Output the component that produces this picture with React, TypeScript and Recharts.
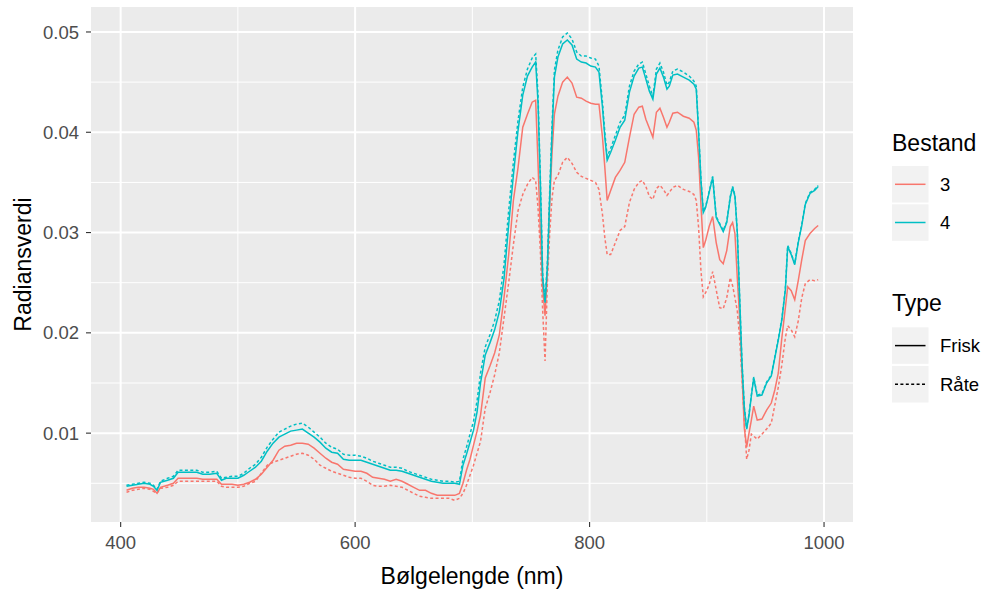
import React from 'react';
import { LineChart, Line, XAxis, YAxis, CartesianGrid } from 'recharts';

// wavelength (nm) and mean radiance per stand / type
const wavelengths = [
  405, 410, 415, 420, 425, 428, 431, 434, 440, 445,
  449, 455, 460, 465, 470, 476, 482, 486, 490, 495,
  500, 505, 510, 515, 520, 525, 530, 535, 540, 545,
  550, 555, 560, 565, 570, 575, 580, 585, 590, 595,
  600, 605, 610, 615, 620, 625, 630, 635, 640, 645,
  650, 655, 660, 665, 670, 675, 680, 685, 689, 692,
  695, 698, 701, 704, 707, 711, 715, 719, 723, 727,
  731, 735, 739, 743, 747, 751, 754, 756, 758, 760,
  762, 764, 766, 768, 770, 773, 777, 781, 785, 789,
  793, 797, 801, 805, 808, 811, 813, 815, 818, 822,
  826, 830, 834, 838, 842, 845, 848, 851, 854, 857,
  860, 863, 866, 868, 871, 875, 880, 885, 889, 891,
  893, 895, 897, 899, 902, 905, 908, 911, 914, 917,
  920, 922, 924, 926, 928, 930, 932, 934, 936, 938,
  940, 943, 947, 951, 955, 958, 961, 964, 967, 969,
  972, 975, 978, 981, 984, 988, 992, 995,
];

const frisk3 = [
  0.0043, 0.0045, 0.0046, 0.0046, 0.0045, 0.0044, 0.0040, 0.0046, 0.0048, 0.0050,
  0.0055, 0.0055, 0.0055, 0.0055, 0.0054, 0.0054, 0.0054, 0.0049, 0.0049, 0.0049,
  0.0048, 0.0049, 0.0051, 0.0054, 0.0059, 0.0066, 0.0073, 0.0083, 0.0087, 0.0088,
  0.0090, 0.0090, 0.0089, 0.0085, 0.0080, 0.0075, 0.0071, 0.0069, 0.0064, 0.0063,
  0.0062, 0.0062, 0.0060, 0.0056, 0.0055, 0.0054, 0.0052, 0.0054, 0.0052, 0.0049,
  0.0046, 0.0043, 0.0043, 0.0040, 0.0038, 0.0038, 0.0038, 0.0038, 0.0040, 0.0050,
  0.0063, 0.0074, 0.0088, 0.0102, 0.0118, 0.0155, 0.0167, 0.0180, 0.0198, 0.0235,
  0.0278, 0.0332, 0.0365, 0.0405, 0.0418, 0.0430, 0.0432, 0.0370, 0.0300, 0.0245,
  0.0217, 0.0262, 0.0330, 0.0380, 0.0418, 0.0436, 0.0450, 0.0455, 0.0449, 0.0435,
  0.0434, 0.0431, 0.0429, 0.0428, 0.0428, 0.0395, 0.0365, 0.0332, 0.0342, 0.0355,
  0.0362, 0.0370, 0.0395, 0.0418, 0.0425, 0.0426, 0.0413, 0.0404, 0.0395, 0.0420,
  0.0424, 0.0415, 0.0405, 0.0410, 0.0419, 0.0420, 0.0416, 0.0414, 0.0410, 0.0402,
  0.0375, 0.0328, 0.0285, 0.0292, 0.0306, 0.0316, 0.0290, 0.0273, 0.0269, 0.0282,
  0.0306, 0.0310, 0.0299, 0.0255, 0.0215, 0.0160, 0.0105, 0.0086, 0.0100, 0.0113,
  0.0127, 0.0113, 0.0114, 0.0123, 0.0130, 0.0143, 0.0160, 0.0195, 0.0225, 0.0246,
  0.0242, 0.0233, 0.0252, 0.0273, 0.0292, 0.0299, 0.0304, 0.0307,
];

const rate3 = [
  0.0041, 0.0043, 0.0044, 0.0045, 0.0044, 0.0042, 0.0040, 0.0045, 0.0046, 0.0048,
  0.0052, 0.0052, 0.0052, 0.0052, 0.0052, 0.0052, 0.0052, 0.0047, 0.0046, 0.0046,
  0.0046, 0.0047, 0.0050, 0.0052, 0.0060, 0.0068, 0.0071, 0.0073, 0.0075, 0.0077,
  0.0079, 0.0080, 0.0078, 0.0074, 0.0068, 0.0065, 0.0062, 0.0060, 0.0058, 0.0056,
  0.0055, 0.0055, 0.0052, 0.0048, 0.0047, 0.0047, 0.0048, 0.0047, 0.0046, 0.0043,
  0.0040, 0.0037, 0.0036, 0.0035, 0.0035, 0.0035, 0.0035, 0.0033, 0.0035, 0.0040,
  0.0048, 0.0058, 0.0068, 0.0080, 0.0092, 0.0125, 0.0140, 0.0158, 0.0180, 0.0215,
  0.0250, 0.0288, 0.0322, 0.0338, 0.0348, 0.0355, 0.0352, 0.0325, 0.0282, 0.0222,
  0.0172, 0.0250, 0.0300, 0.0335, 0.0352, 0.0357, 0.0370, 0.0375, 0.0369, 0.0360,
  0.0356, 0.0354, 0.0352, 0.0350, 0.0343, 0.0318, 0.0295, 0.0278, 0.0278, 0.0290,
  0.0302, 0.0306, 0.0330, 0.0343, 0.0350, 0.0352, 0.0346, 0.0336, 0.0333, 0.0344,
  0.0347, 0.0343, 0.0337, 0.0340, 0.0345, 0.0347, 0.0343, 0.0341, 0.0338, 0.0332,
  0.0305, 0.0262, 0.0236, 0.0240, 0.0248, 0.0261, 0.0243, 0.0225, 0.0224, 0.0235,
  0.0255, 0.0247, 0.0235, 0.0222, 0.0195, 0.0155, 0.0113, 0.0074, 0.0083, 0.0099,
  0.0097, 0.0094, 0.0099, 0.0104, 0.0110, 0.0128, 0.0146, 0.0168, 0.0195, 0.0207,
  0.0203, 0.0196, 0.0212, 0.0235, 0.0249, 0.0253, 0.0252, 0.0253,
];

const frisk4 = [
  0.0047, 0.0048, 0.0049, 0.0050, 0.0049, 0.0047, 0.0043, 0.0051, 0.0053, 0.0055,
  0.0061, 0.0061, 0.0061, 0.0061, 0.0059, 0.0059, 0.0060, 0.0053, 0.0055, 0.0055,
  0.0055, 0.0058, 0.0062, 0.0066, 0.0072, 0.0082, 0.0090, 0.0096, 0.0099, 0.0102,
  0.0103, 0.0104, 0.0100, 0.0096, 0.0091, 0.0085, 0.0081, 0.0080, 0.0074, 0.0073,
  0.0073, 0.0073, 0.0071, 0.0069, 0.0067, 0.0065, 0.0063, 0.0063, 0.0062, 0.0060,
  0.0058, 0.0056, 0.0054, 0.0052, 0.0051, 0.0050, 0.0050, 0.0050, 0.0049, 0.0068,
  0.0079, 0.0091, 0.0103, 0.0121, 0.0150, 0.0178, 0.0190, 0.0203, 0.0221, 0.0254,
  0.0308, 0.0357, 0.0402, 0.0437, 0.0456, 0.0465, 0.0470, 0.0430, 0.0350, 0.0255,
  0.0230, 0.0265, 0.0335, 0.0400, 0.0455, 0.0475, 0.0488, 0.0492, 0.0487, 0.0473,
  0.0470, 0.0469, 0.0466, 0.0465, 0.0460, 0.0425, 0.0395, 0.0372, 0.0380, 0.0392,
  0.0405, 0.0412, 0.0440, 0.0456, 0.0464, 0.0465, 0.0453, 0.0441, 0.0433, 0.0458,
  0.0464, 0.0455, 0.0443, 0.0446, 0.0457, 0.0458, 0.0455, 0.0452, 0.0448, 0.0443,
  0.0400, 0.0352, 0.0320, 0.0325, 0.0340, 0.0355, 0.0315, 0.0308, 0.0301, 0.0310,
  0.0335, 0.0345, 0.0336, 0.0300, 0.0235, 0.0170, 0.0125, 0.0104, 0.0118, 0.0137,
  0.0155, 0.0137, 0.0138, 0.0150, 0.0157, 0.0175, 0.0193, 0.0213, 0.0243, 0.0286,
  0.0278, 0.0268, 0.0290, 0.0307, 0.0328, 0.0339, 0.0342, 0.0346,
];

const rate4 = [
  0.0048, 0.0049, 0.0050, 0.0051, 0.0050, 0.0048, 0.0044, 0.0052, 0.0055, 0.0057,
  0.0063, 0.0063, 0.0063, 0.0063, 0.0061, 0.0061, 0.0062, 0.0055, 0.0056, 0.0057,
  0.0057, 0.0060, 0.0065, 0.0069, 0.0076, 0.0086, 0.0094, 0.0101, 0.0104, 0.0107,
  0.0109, 0.0110, 0.0106, 0.0101, 0.0096, 0.0090, 0.0086, 0.0084, 0.0079, 0.0078,
  0.0078, 0.0077, 0.0075, 0.0072, 0.0070, 0.0068, 0.0066, 0.0066, 0.0065, 0.0062,
  0.0060, 0.0058, 0.0056, 0.0054, 0.0053, 0.0052, 0.0052, 0.0051, 0.0052, 0.0074,
  0.0086, 0.0099, 0.0112, 0.0132, 0.0160, 0.0186, 0.0198, 0.0212, 0.0232, 0.0268,
  0.0322, 0.0370, 0.0412, 0.0445, 0.0463, 0.0474, 0.0478, 0.0438, 0.0355, 0.0258,
  0.0232, 0.0270, 0.0342, 0.0408, 0.0462, 0.0482, 0.0495, 0.0499, 0.0493, 0.0480,
  0.0476, 0.0476, 0.0474, 0.0473, 0.0466, 0.0430, 0.0400, 0.0376, 0.0384, 0.0397,
  0.0410, 0.0417, 0.0446, 0.0461, 0.0468, 0.0470, 0.0458, 0.0446, 0.0436, 0.0463,
  0.0469, 0.0460, 0.0447, 0.0450, 0.0461, 0.0463, 0.0460, 0.0456, 0.0451, 0.0446,
  0.0401, 0.0353, 0.0321, 0.0326, 0.0341, 0.0356, 0.0316, 0.0309, 0.0302, 0.0311,
  0.0336, 0.0346, 0.0337, 0.0301, 0.0236, 0.0171, 0.0126, 0.0105, 0.0119, 0.0138,
  0.0156, 0.0138, 0.0139, 0.0151, 0.0158, 0.0176, 0.0194, 0.0214, 0.0244, 0.0287,
  0.0279, 0.0269, 0.0291, 0.0308, 0.0329, 0.0340, 0.0343, 0.0347,
];

const xTicks = [400, 600, 800, 1000];
const xMinor = [500, 700, 900];
const yTicks = [0.01, 0.02, 0.03, 0.04, 0.05];
const yMinor = [0.005, 0.015, 0.025, 0.035, 0.045];

const RED = '#F8766D';
const TEAL = '#00BFC4';
const DASH = '3 2.4';
const FONT = '"Liberation Sans", Arial, sans-serif';
const TEXT_SIZE = 18.5;
const TITLE_SIZE = 23;

const data = wavelengths.map((w, i) => ({
  w,
  frisk3: frisk3[i],
  rate3: rate3[i],
  frisk4: frisk4[i],
  rate4: rate4[i],
}));

const renderYTitle = (props: any) => {
  const { x, y, height } = props.viewBox;
  const cx = x + 23;
  const cy = y + height / 2;
  return (
    <text
      x={cx}
      y={cy}
      transform={`rotate(-90, ${cx}, ${cy})`}
      textAnchor="middle"
      dominantBaseline="central"
      fontSize={TITLE_SIZE}
      fill="#000"
      fontFamily={FONT}
    >
      Radiansverdi
    </text>
  );
};

const Legends = () => (
  <svg
    width={987}
    height={589}
    style={{ position: 'absolute', left: 0, top: 0, pointerEvents: 'none' }}
    fontFamily={FONT}
  >
    <text x={892} y={151} fontSize={TITLE_SIZE} fill="#000">Bestand</text>
    <rect x={892} y={166} width={36.5} height={36.5} fill="#F2F2F2" />
    <line x1={895} x2={925.5} y1={184.3} y2={184.3} stroke={RED} strokeWidth={1.5} />
    <text x={940} y={191} fontSize={TEXT_SIZE} fill="#000">3</text>
    <rect x={892} y={204.3} width={36.5} height={36.5} fill="#F2F2F2" />
    <line x1={895} x2={925.5} y1={222.5} y2={222.5} stroke={TEAL} strokeWidth={1.5} />
    <text x={940} y={229} fontSize={TEXT_SIZE} fill="#000">4</text>

    <text x={892} y={311} fontSize={TITLE_SIZE} fill="#000">Type</text>
    <rect x={892} y={327.3} width={36.5} height={36.5} fill="#F2F2F2" />
    <line x1={895} x2={925.5} y1={345.6} y2={345.6} stroke="#000" strokeWidth={1.5} />
    <text x={940} y={352} fontSize={TEXT_SIZE} fill="#000">Frisk</text>
    <rect x={892} y={366} width={36.5} height={36.5} fill="#F2F2F2" />
    <line x1={895} x2={925.5} y1={384.3} y2={384.3} stroke="#000" strokeWidth={1.5} strokeDasharray={DASH} />
    <text x={940} y={391} fontSize={TEXT_SIZE} fill="#000">Råte</text>
  </svg>
);

export default function App() {
  return (
    <div style={{ position: 'absolute', left: 0, top: 0, width: 987, height: 589, background: '#fff', fontFamily: FONT }}>
      <LineChart
        width={987}
        height={589}
        data={data}
        margin={{ top: 7, right: 134, bottom: 0, left: 0 }}
      >
        <CartesianGrid
          fill="#EBEBEB"
          fillOpacity={1}
          stroke="#FFFFFF"
          strokeWidth={1}
          horizontalValues={yMinor}
          verticalValues={xMinor}
        />
        <CartesianGrid
          stroke="#FFFFFF"
          strokeWidth={2}
          horizontalValues={yTicks}
          verticalValues={xTicks}
        />
        <XAxis
          dataKey="w"
          type="number"
          domain={[374.7, 1024.7]}
          ticks={xTicks}
          allowDataOverflow
          height={67}
          axisLine={false}
          tickSize={5}
          tickMargin={9}
          tickLine={{ stroke: '#333333', strokeWidth: 1.1 }}
          tick={{ fill: '#4D4D4D', fontSize: TEXT_SIZE, fontFamily: FONT }}
          label={{ value: 'Bølgelengde (nm)', position: 'insideBottom', offset: 5, fill: '#000', fontSize: TITLE_SIZE, fontFamily: FONT }}
        />
        <YAxis
          type="number"
          domain={[0.00114, 0.05249]}
          ticks={yTicks}
          allowDataOverflow
          width={91}
          axisLine={false}
          tickSize={5}
          tickMargin={7}
          tickLine={{ stroke: '#333333', strokeWidth: 1.1 }}
          tick={{ fill: '#4D4D4D', fontSize: TEXT_SIZE, fontFamily: FONT }}
          tickFormatter={(v: number) => v.toFixed(2)}
          label={renderYTitle}
        />
        <Line dataKey="frisk3" stroke={RED} strokeWidth={1.5} dot={false} type="linear" isAnimationActive={false} />
        <Line dataKey="rate3" stroke={RED} strokeWidth={1.5} strokeDasharray={DASH} dot={false} type="linear" isAnimationActive={false} />
        <Line dataKey="frisk4" stroke={TEAL} strokeWidth={1.5} dot={false} type="linear" isAnimationActive={false} />
        <Line dataKey="rate4" stroke={TEAL} strokeWidth={1.5} strokeDasharray={DASH} dot={false} type="linear" isAnimationActive={false} />
      </LineChart>
      <Legends />
    </div>
  );
}
